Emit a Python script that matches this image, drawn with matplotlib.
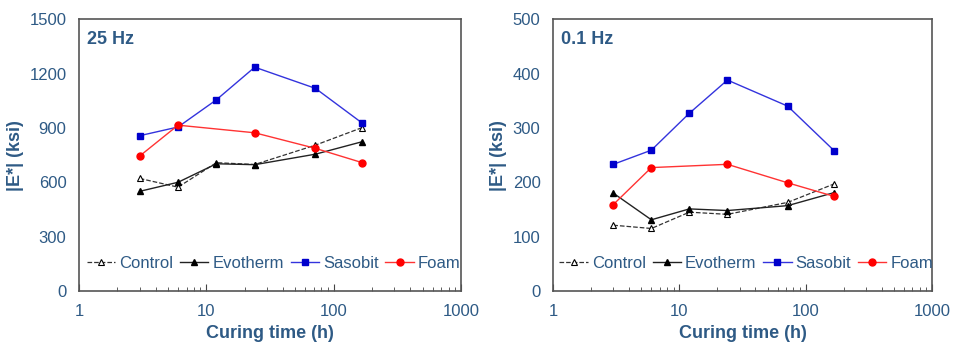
import numpy as np
import matplotlib.pyplot as plt
from matplotlib.ticker import FixedLocator, LogLocator, NullFormatter

plt.rcParams['font.family'] = ['Liberation Sans', 'DejaVu Sans']

# Curing times (h)
curing_time = [3, 6, 12, 24, 72, 168]

# |E*| at 25 Hz (ksi)
control_25 = [621, 573, 708, 698, 805, 902]
evotherm_25 = [550, 600, 702, 697, 755, 824]
sasobit_25 = [857, 905, 1055, 1235, 1118, 926]
foam_25 = [745, 915, 873, 787, 708]
foam_time = [3, 6, 24, 72, 168]

# |E*| at 0.1 Hz (ksi)
control_01 = [121, 115, 145, 141, 163, 197]
evotherm_01 = [180, 131, 151, 148, 157, 181]
sasobit_01 = [233, 259, 327, 388, 340, 258]
foam_01 = [159, 227, 233, 199, 174]

text_color = '#2E5A85'

fig = plt.figure(figsize=(9.54, 3.45), dpi=100)
ax1 = fig.add_axes([0.0828, 0.1565, 0.4004, 0.788])
ax2 = fig.add_axes([0.5797, 0.1565, 0.3973, 0.788])


def draw_panel(ax, control, evotherm, sasobit, foam, ymax, ystep, label):
    ax.plot(curing_time, control, ls='--', c='#333333', lw=0.9, marker='^',
            mfc='white', mec='black', ms=5, mew=0.8, label='Control')
    ax.plot(curing_time, evotherm, ls='-', c='#222222', lw=1.0, marker='^',
            mfc='black', mec='black', ms=5, label='Evotherm')
    ax.plot(curing_time, sasobit, ls='-', c='#3333DD', lw=1.0, marker='s',
            mfc='#0000CC', mec='#0000CC', ms=5, label='Sasobit')
    ax.plot(foam_time, foam, ls='-', c='#FF3333', lw=1.0, marker='o',
            mfc='#FF0000', mec='#FF0000', ms=5, label='Foam')

    ax.set_xscale('log')
    ax.set_xlim(1, 1000)
    ax.set_ylim(0, ymax)
    ax.set_xticks([1, 10, 100, 1000])
    ax.set_xticklabels(['1', '10', '100', '1000'])
    ax.xaxis.set_minor_locator(LogLocator(base=10, subs=np.arange(2, 10)))
    ax.xaxis.set_minor_formatter(NullFormatter())
    ax.yaxis.set_major_locator(FixedLocator(np.arange(0, ymax + 1, ystep)))

    ax.tick_params(axis='both', which='both', direction='in', colors='#444444',
                   labelcolor=text_color, labelsize=12)
    ax.tick_params(axis='x', which='major', length=5, pad=9)
    ax.tick_params(axis='x', which='minor', length=3)
    ax.tick_params(axis='y', which='major', length=0, pad=9)
    for s in ax.spines.values():
        s.set_color('#555555')
        s.set_linewidth(1.2)

    ax.set_xlabel('Curing time (h)', color=text_color, fontsize=13,
                  fontweight='bold', labelpad=5)
    ax.set_ylabel('|E*| (ksi)', color=text_color, fontsize=13,
                  fontweight='bold', labelpad=4)
    ax.text(0.02, 0.955, label, transform=ax.transAxes, color=text_color,
            fontsize=13, fontweight='bold', va='top', ha='left')

    leg = ax.legend(loc='lower center', bbox_to_anchor=(0.51, 0.05), ncol=4,
                    frameon=False, fontsize=12, handlelength=1.7,
                    handletextpad=0.25, columnspacing=0.4, borderaxespad=0)
    for t in leg.get_texts():
        t.set_color(text_color)


draw_panel(ax1, control_25, evotherm_25, sasobit_25, foam_25, 1500, 300, '25 Hz')
draw_panel(ax2, control_01, evotherm_01, sasobit_01, foam_01, 500, 100, '0.1 Hz')

plt.savefig('out.png', dpi=100)
plt.close()
